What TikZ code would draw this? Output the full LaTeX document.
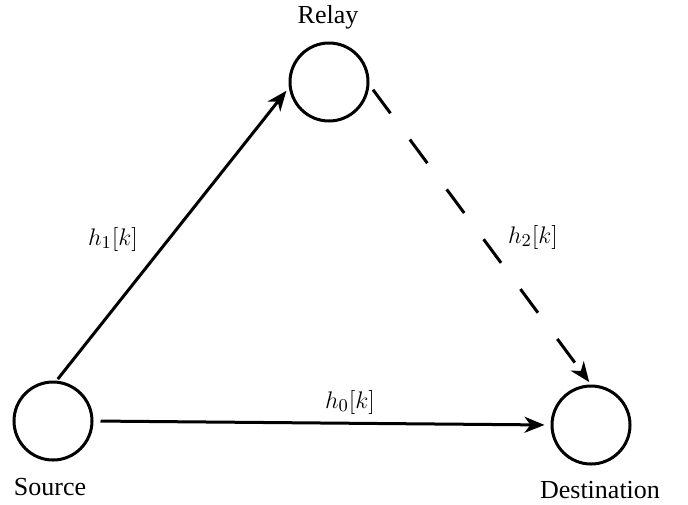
\documentclass[tikz,border=0pt]{standalone}
\usepackage{fontspec}
\setmainfont{Liberation Serif}
\usetikzlibrary{arrows.meta}
\begin{document}
\begin{tikzpicture}[x=0.5pt,y=-0.5pt,
  station/.style={circle,draw,line width=1.5pt,minimum size=39pt,inner sep=0pt},
  lbl/.style={font=\fontsize{13}{15}\selectfont,anchor=base},
  link/.style={line width=1.5pt,-{Stealth[length=10pt,width=8pt,inset=3pt]}},
  dashlink/.style={link,dash pattern=on 14.7pt off 16.3pt}]
\useasboundingbox (0,0) rectangle (688,504);
\node[station] (src) at (53,421) {};
\node[station] (rel) at (329,82) {};
\node[station] (dst) at (591,425) {};
\node[lbl] (lrel) at (328,23) {Relay};
\node[lbl] (lsrc) at (50,495) {Source};
\node[lbl] (ldst) at (600,498) {Destination};
\draw[link,shorten <=1pt,shorten >=2pt] (src.85) -- (rel.188);
\draw[link,shorten <=3.5pt,shorten >=3pt] (src.east) -- (dst.west);
\draw[dashlink,shorten <=3pt,shorten >=1.5pt] (rel.-4) -- (dst.north);
\node[lbl] (h1) at (113,245) {$h_1[k]$};
\node[lbl] (h2) at (533,243) {$h_2[k]$};
\node[lbl] (h0) at (350,408) {$h_0[k]$};
\end{tikzpicture}
\end{document}
